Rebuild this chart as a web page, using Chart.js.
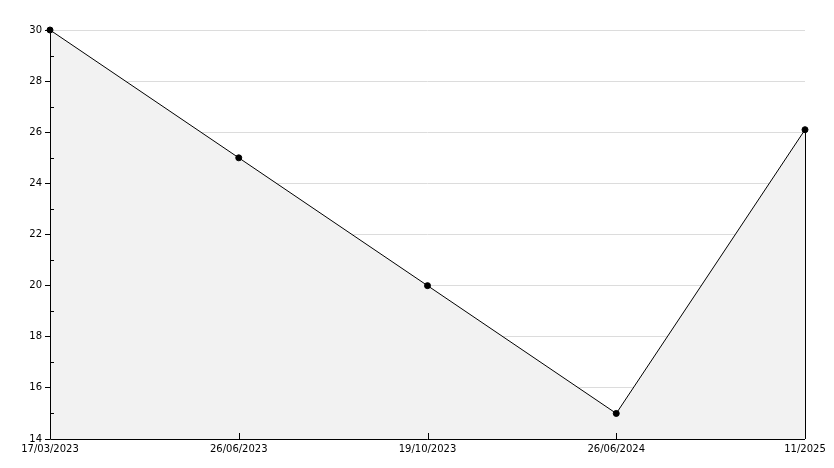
<!DOCTYPE html>
<html>
<head>
<meta charset="utf-8">
<script src="https://cdn.jsdelivr.net/npm/chart.js@4/dist/chart.umd.min.js"></script>
<style>
  html, body { margin: 0; padding: 0; background: #fff; }
  #wrap { width: 834px; height: 468px; }
</style>
</head>
<body>
<div id="wrap"><canvas id="chart" width="834" height="468"></canvas></div>
<script>
// data
const dates = ["17/03/2023", "26/06/2023", "19/10/2023", "26/06/2024", "11/2025"];
const values = [30, 25, 20, 15, 26.1];
const yMin = 14;
const yMax = 30;
const yStep = 2;

/* little extras: inner minor ticks, inner x ticks, right edge of the area, axis lines on top */
const extrasPlugin = {
    id: "extras",
    afterDatasetsDraw(chart) {
        const ctx = chart.ctx;
        const x = chart.scales.x;
        const y = chart.scales.y;
        ctx.save();
        ctx.strokeStyle = "#000";
        ctx.lineWidth = 1;
        ctx.beginPath();
        // minor ticks on y (odd values), pointing into the plot
        for (let v = yMin + 1; v < yMax; v += yStep) {
            const py = Math.round(y.getPixelForValue(v)) + 0.5;
            ctx.moveTo(x.left, py);
            ctx.lineTo(x.left + 4, py);
        }
        // x ticks pointing up into the plot
        dates.forEach((d, i) => {
            const px = Math.round(x.getPixelForValue(i)) + 0.5;
            ctx.moveTo(px, y.bottom);
            ctx.lineTo(px, y.bottom - 6);
        });
        // right side of the filled area
        const last = values.length - 1;
        const rx = Math.round(x.getPixelForValue(last)) + 0.5;
        ctx.moveTo(rx, y.getPixelForValue(values[last]));
        ctx.lineTo(rx, y.bottom);
        // axis lines
        const lx = Math.round(x.left) + 0.5;
        const by = Math.round(y.bottom) + 0.5;
        ctx.moveTo(lx, y.top);
        ctx.lineTo(lx, by);
        ctx.lineTo(x.right, by);
        ctx.stroke();
        ctx.restore();
    }
};

Chart.defaults.font.family = "'DejaVu Sans', sans-serif";
Chart.defaults.font.size = 10;
Chart.defaults.color = "#000";

const chartCtx = document.getElementById("chart").getContext("2d");
new Chart(chartCtx, {
    type: "line",
    data: {
        labels: dates,
        datasets: [{
            data: values,
            borderColor: "#000",
            borderWidth: 1,
            backgroundColor: "#f2f2f2",
            fill: "start",
            tension: 0,
            clip: false,
            pointRadius: 3,
            pointHoverRadius: 3,
            pointBackgroundColor: "#000",
            pointBorderColor: "#000",
            pointBorderWidth: 1
        }]
    },
    options: {
        responsive: false,
        animation: false,
        events: [],
        layout: { padding: { left: 0, top: 30, right: 29, bottom: 0 } },
        plugins: {
            legend: { display: false },
            tooltip: { enabled: false }
        },
        scales: {
            x: {
                type: "category",
                offset: false,
                grid: { display: false, drawTicks: false },
                border: { display: false },
                ticks: { autoSkip: false, maxRotation: 0, padding: 4 },
                afterFit: (scale) => { scale.height = 29; }
            },
            y: {
                min: yMin,
                max: yMax,
                ticks: { stepSize: yStep, padding: 3 },
                grid: {
                    color: (c) => (c.tick && c.tick.value === yMin ? "rgba(0,0,0,0)" : "#dcdcdc"),
                    tickColor: "#000",
                    tickLength: 5
                },
                border: { display: false },
                afterFit: (scale) => { scale.width = 50; }
            }
        }
    },
    plugins: [extrasPlugin]
});
</script>
</body>
</html>
